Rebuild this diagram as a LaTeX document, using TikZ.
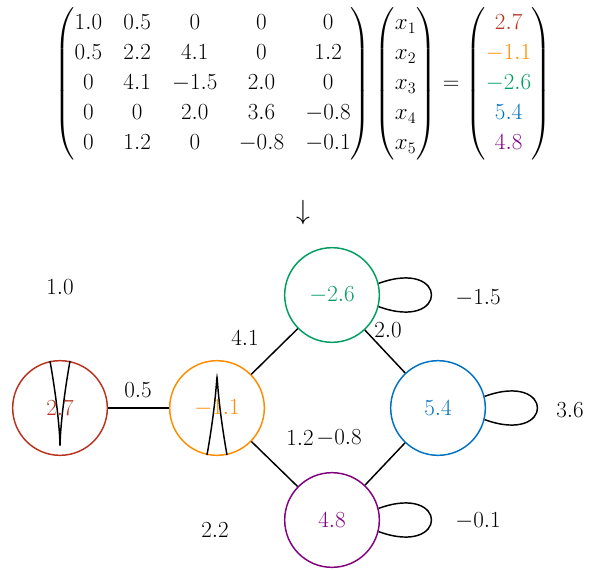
\documentclass[tikz,border=0pt]{standalone}
\usepackage{amsmath}
\definecolor{cr}{RGB}{184,50,30}
\definecolor{co}{RGB}{255,140,0}
\definecolor{cg}{RGB}{0,158,96}
\definecolor{cb}{RGB}{0,112,192}
\definecolor{cp}{RGB}{128,0,128}
\begin{document}
\begin{tikzpicture}[x=0.75pt,y=-0.75pt,
  vtx/.style={circle,draw=#1,text=#1,line width=1.1pt,minimum size=71pt,inner sep=0pt,font=\fontsize{19}{22}\selectfont},
  lbl/.style={font=\fontsize{17.5}{20}\selectfont},
  ed/.style={line width=1.1pt}]
\useasboundingbox (0,0) rectangle (606,570);
\node[font=\fontsize{18}{22.5}\selectfont,inner sep=0pt] (eq) at (303,84) {\setlength{\arraycolsep}{8pt}$\begin{pmatrix}
1.0 & 0.5 & 0 & 0 & 0\\
0.5 & 2.2 & 4.1 & 0 & 1.2\\
0 & 4.1 & -1.5 & 2.0 & 0\\
0 & 0 & 2.0 & 3.6 & -0.8\\
0 & 1.2 & 0 & -0.8 & -0.1
\end{pmatrix}\begin{pmatrix}x_1\\x_2\\x_3\\x_4\\x_5\end{pmatrix}=\begin{pmatrix}\color{cr}2.7\\\color{co}-1.1\\\color{cg}-2.6\\\color{cb}5.4\\\color{cp}4.8\end{pmatrix}$};
\node[font=\fontsize{20}{22}\selectfont] (arr) at (303,213) {$\downarrow$};
\node[vtx=cr] (a) at (60,408) {$2.7$};
\node[vtx=co] (b) at (217,408) {$-1.1$};
\node[vtx=cg] (c) at (332,295) {$-2.6$};
\node[vtx=cb] (d) at (438,408) {$5.4$};
\node[vtx=cp] (e) at (332,520) {$4.8$};
\draw[ed] (a) -- (b);
\draw[ed] (b) -- (c);
\draw[ed] (c) -- (d);
\draw[ed] (b) -- (e);
\draw[ed] (d) -- (e);
\draw[ed] (a.102) .. controls +(-100:-115) and +(-80:-115) .. (a.78);
\draw[ed] (b.-102) .. controls +(100:-105) and +(80:-105) .. (b.-78);
\draw[ed] (c.14) .. controls +(-20:75) and +(20:75) .. (c.-14);
\draw[ed] (d.14) .. controls +(-20:75) and +(20:75) .. (d.-14);
\draw[ed] (e.14) .. controls +(-20:75) and +(20:75) .. (e.-14);
\node[lbl] (l1) at (60,287) {$1.0$};
\node[lbl] (l2) at (215,530) {$2.2$};
\node[lbl] (l3) at (478,298) {$-1.5$};
\node[lbl] (l4) at (570,410) {$3.6$};
\node[lbl] (l5) at (478,521) {$-0.1$};
\node[lbl] (l6) at (138,390) {$0.5$};
\node[lbl] (l7) at (245,338) {$4.1$};
\node[lbl] (l8) at (388,330) {$2.0$};
\node[lbl] (l9) at (300,438) {$1.2$};
\node[lbl] (l10) at (339,438) {$-0.8$};
\end{tikzpicture}
\end{document}
